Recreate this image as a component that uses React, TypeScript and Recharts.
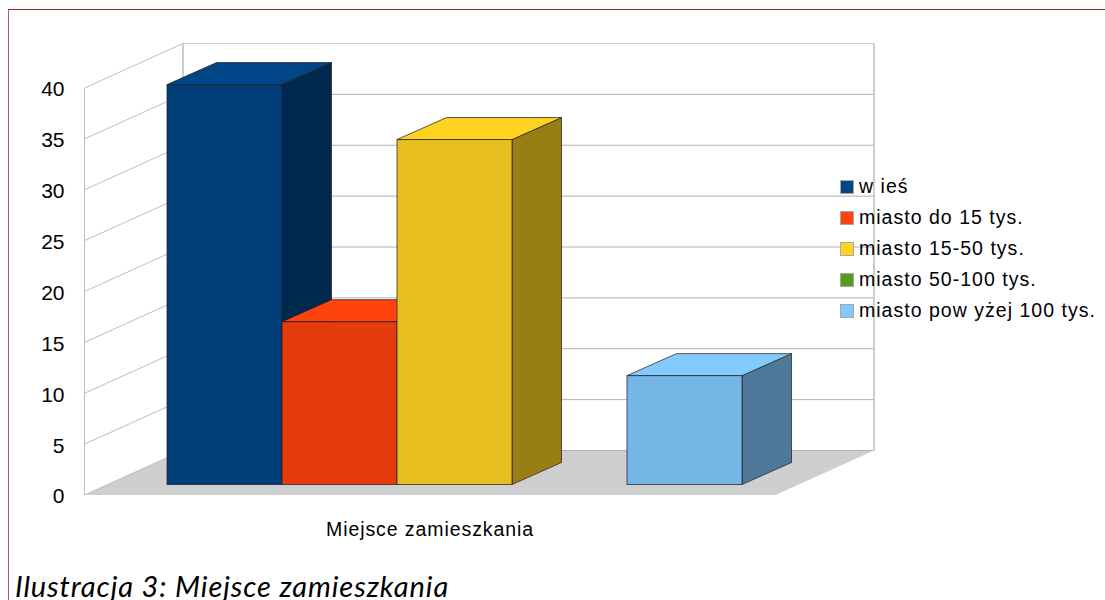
import React from "react";
import { BarChart, Bar, XAxis, YAxis, CartesianGrid, Legend } from "recharts";

const categories = ["Miejsce zamieszkania"];
const seriesNames = [
  "w ieś",
  "miasto do 15 tys.",
  "miasto 15-50 tys.",
  "miasto 50-100 tys.",
  "miasto pow yżej 100 tys.",
];
const seriesValues = [39.3, 16, 33.9, 0, 10.7];
const seriesColors = ["#004586", "#ff420e", "#ffd320", "#579d1c", "#83caff"];
const yTicks = [0, 5, 10, 15, 20, 25, 30, 35, 40];

const data = categories.map((name) => {
  const row: any = { name };
  seriesNames.forEach((s, i) => {
    row[s] = seriesValues[i];
  });
  return row;
});

// offsets of the fake 3d box
const WALL_DX = 98.5;
const WALL_DY = 44.5;
const BAR_DX = 25;
const BAR_DY = 10.5;
const SIDE_DX = 49.5;
const SIDE_DY = 22;

const FONT = "'Liberation Sans', Arial, sans-serif";

const shade = (hex: string, k: number) => {
  const n = parseInt(hex.slice(1), 16);
  const c = [(n >> 16) & 255, (n >> 8) & 255, n & 255].map((v) => Math.round(v * k));
  return `rgb(${c[0]},${c[1]},${c[2]})`;
};

const pts = (list: number[][]) => list.map((p) => p.join(",")).join(" ");

// one wall line per tick, the floor and the wall edges hang on the first/last one
const renderGridLine = (props: any) => {
  const { x1, x2, y1, index, key } = props;
  const bx1 = x1 + WALL_DX;
  const bx2 = x2 + WALL_DX;
  const by = y1 - WALL_DY;
  const isFloor = Math.abs(y1 - 495) < 1;
  const isTop = Math.abs(y1 - 88) < 1;
  return (
    <g key={key ?? index}>
      {isFloor && (
        <polygon
          points={pts([[x1, y1], [x2, y1], [bx2, by], [bx1, by]])}
          fill="#cfcfcf"
          stroke="none"
        />
      )}
      {isTop && (
        <>
          <line x1={x1} y1={y1} x2={x1} y2={495} stroke="#bebebe" />
          <line x1={bx1} y1={by} x2={bx1} y2={495 - WALL_DY} stroke="#bebebe" strokeWidth={1.5} />
          <line x1={bx2} y1={by} x2={bx2} y2={495 - WALL_DY} stroke="#bebebe" strokeWidth={1.5} />
        </>
      )}
      <line x1={x1} y1={y1} x2={bx1} y2={by} stroke="#bebebe" />
      <line x1={bx1} y1={by} x2={bx2} y2={by} stroke={isTop ? "#cccccc" : "#b0b0b0"} />
    </g>
  );
};

const Bar3D = (props: any) => {
  const { x, y, width, height, fill, value } = props;
  const v = Array.isArray(value) ? value[1] - value[0] : value;
  if (!v) return null;
  const l = x + BAR_DX;
  const r = l + width;
  const t = y - BAR_DY;
  const b = t + height;
  const edge = "rgba(30,30,30,0.72)";
  return (
    <g>
      <polygon
        points={pts([[r, t], [r + SIDE_DX, t - SIDE_DY], [r + SIDE_DX, b - SIDE_DY], [r, b]])}
        fill={shade(fill, 0.6)}
        stroke={edge}
      />
      <polygon
        points={pts([[l, t], [l + SIDE_DX, t - SIDE_DY], [r + SIDE_DX, t - SIDE_DY], [r, t]])}
        fill={fill}
        stroke={edge}
      />
      <rect x={l} y={t} width={width} height={height} fill={shade(fill, 0.9)} stroke={edge} />
    </g>
  );
};

const renderLegend = ({ payload }: any) => (
  <div style={{ fontFamily: FONT, fontSize: 19.5, letterSpacing: 1.02, color: "#000" }}>
    {(payload || []).map((item: any) => (
      <div
        key={item.value}
        style={{ display: "flex", alignItems: "center", height: 31, whiteSpace: "pre" }}
      >
        <span
          style={{
            width: 12,
            height: 12,
            marginRight: 5,
            background: item.color,
            border: "1px solid #a8a8a8",
            flex: "none",
          }}
        />
        {item.value}
      </div>
    ))}
  </div>
);

export default function App() {
  return (
    <div style={{ position: "absolute", left: 0, top: 0, width: 1105, height: 600, overflow: "hidden", background: "#fff" }}>
      <div
        style={{
          position: "absolute",
          left: 8,
          top: 9,
          right: 0,
          bottom: 0,
          borderTop: "1px solid #a32020",
          borderLeft: "1px solid #c25454",
        }}
      />
      <BarChart
        width={1105}
        height={600}
        data={data}
        margin={{ top: 88, right: 329.5, bottom: 0, left: 0 }}
        barCategoryGap={57.5}
        barGap={0}
        style={{ position: "absolute", left: 0, top: 0 }}
      >
        <CartesianGrid vertical={false} horizontal={renderGridLine} />
        <XAxis
          dataKey="name"
          height={105}
          axisLine={false}
          tickLine={false}
          tickMargin={21}
          tick={{ fontFamily: FONT, fontSize: 19.5, fill: "#000", letterSpacing: 0.92 }}
        />
        <YAxis
          domain={[0, 40]}
          ticks={yTicks}
          width={84.5}
          axisLine={false}
          tickLine={false}
          tickMargin={20}
          tickSize={0}
          tick={{ fontFamily: FONT, fontSize: 21, fill: "#000", dy: 1 }}
        />
        <Legend
          layout="vertical"
          align="center"
          verticalAlign="middle"
          itemSorter={null}
          content={renderLegend}
          wrapperStyle={{ left: 840, top: 171, width: 265 }}
        />
        {seriesNames.map((s, i) => (
          <Bar key={s} dataKey={s} fill={seriesColors[i]} shape={Bar3D} isAnimationActive={false} />
        ))}
      </BarChart>
      <div
        style={{
          position: "absolute",
          left: 15,
          top: 568,
          fontFamily: "Lato, sans-serif",
          fontStyle: "italic",
          fontSize: 29,
          letterSpacing: 0.9,
          whiteSpace: "pre",
          color: "#000",
        }}
      >
        Ilustracja 3: Miejsce zamieszkania
      </div>
    </div>
  );
}
